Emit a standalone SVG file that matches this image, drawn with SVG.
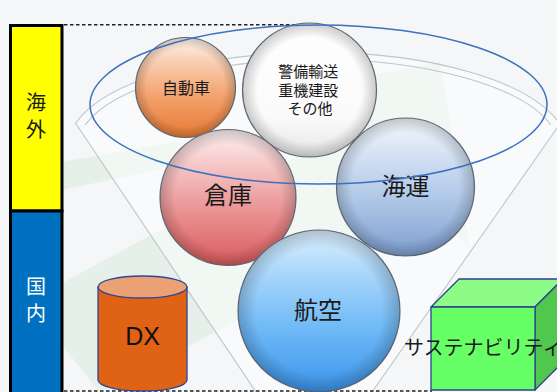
<svg xmlns="http://www.w3.org/2000/svg" width="557" height="392" viewBox="0 0 557 392">
  <style>
    .jp { font-family: "Noto Sans CJK JP", "Noto Sans", sans-serif; fill: #1a1a1a; text-anchor: middle; dominant-baseline: central; }
    .sphere { stroke: #66717d; stroke-width: 1.2; }
    .edge { fill: url(#edgeShade); stroke: none; }
    .rim { fill: none; stroke: #bfc5cb; stroke-width: 1.1; }
    .dash { fill: none; stroke: #222; stroke-width: 1.6; stroke-dasharray: 3.5 2.5; }
  </style>
  <defs>
    <linearGradient id="gOrange" x1="0" y1="0" x2="0" y2="1">
      <stop offset="0" stop-color="#fff4ec"/>
      <stop offset="0.25" stop-color="#f9cdb0"/>
      <stop offset="0.6" stop-color="#f3a06a"/>
      <stop offset="1" stop-color="#e67a34"/>
    </linearGradient>
    <linearGradient id="gWhite" x1="0" y1="0" x2="0" y2="1">
      <stop offset="0" stop-color="#ffffff"/>
      <stop offset="0.7" stop-color="#fafafa"/>
      <stop offset="1" stop-color="#e6e6e6"/>
    </linearGradient>
    <linearGradient id="gRed" x1="0" y1="0" x2="0" y2="1">
      <stop offset="0" stop-color="#fdf2f2"/>
      <stop offset="0.25" stop-color="#f6c8c8"/>
      <stop offset="0.6" stop-color="#ea9293"/>
      <stop offset="1" stop-color="#d95b5d"/>
    </linearGradient>
    <linearGradient id="gSea" x1="0" y1="0" x2="0" y2="1">
      <stop offset="0" stop-color="#f4f8fd"/>
      <stop offset="0.25" stop-color="#d6e3f4"/>
      <stop offset="0.6" stop-color="#adc6e6"/>
      <stop offset="1" stop-color="#7f9fd0"/>
    </linearGradient>
    <linearGradient id="gAir" x1="0" y1="0" x2="0" y2="1">
      <stop offset="0" stop-color="#dcf0ff"/>
      <stop offset="0.25" stop-color="#acd8fb"/>
      <stop offset="0.6" stop-color="#70baf6"/>
      <stop offset="1" stop-color="#3b95ea"/>
    </linearGradient>
    <radialGradient id="edgeShade" cx="0.5" cy="0.5" r="0.5">
      <stop offset="0.78" stop-color="#000" stop-opacity="0"/>
      <stop offset="1" stop-color="#000" stop-opacity="0.2"/>
    </radialGradient>
  </defs>

  <!-- backdrop -->
  <rect x="0" y="0" width="557" height="392" fill="#f4f6f7"/>
  <g id="watermark" fill="#dfeee4" opacity="0.7">
    <polygon points="62,283 350,128 325,85 440,62 470,250 440,215 100,392 62,345"/>
    <polygon points="62,162 175,142 250,150 62,190"/>
  </g>

  <!-- funnel -->
  <g id="funnel">
    <path d="M256,392 L75.6,123.3 A250,95 0 0 1 559.8,124.1 L372,392 Z" fill="#ffffff" fill-opacity="0.45" stroke="none"/>
    <path class="rim" d="M256,392 L75.6,123.3 A250,95 0 0 1 559.8,124.1 L372,392"/>
    <path class="rim" d="M85.2,124.8 A241,88 0 0 1 550.8,124.8"/>
  </g>

  <!-- region bars -->
  <g id="bar-overseas">
    <rect x="10.5" y="25.5" width="51.5" height="185.5" fill="#ffff00" stroke="#000" stroke-width="3"/>
    <text class="jp" x="36" y="101" font-size="20">海</text>
    <text class="jp" x="36" y="128" font-size="20">外</text>
  </g>
  <g id="bar-domestic">
    <rect x="10.5" y="211" width="51.5" height="195" fill="#0070c0" stroke="#000" stroke-width="3"/>
    <text class="jp" x="36" y="285" font-size="20" style="fill:#ffffff">国</text>
    <text class="jp" x="36" y="312" font-size="20" style="fill:#ffffff">内</text>
  </g>

  <!-- dashed guides -->
  <g id="guides">
    <line class="dash" x1="64" y1="24.8" x2="309" y2="24.8"/>
    <line class="dash" x1="64" y1="391" x2="432" y2="391"/>
  </g>

  <!-- spheres -->
  <g id="node-car">
    <circle class="sphere" cx="185.5" cy="87.5" r="50" fill="url(#gOrange)"/>
    <circle class="edge" cx="185.5" cy="87.5" r="50"/>
    <text class="jp" x="186" y="87" font-size="16">自動車</text>
  </g>
  <g id="node-other">
    <circle class="sphere" cx="309.5" cy="90" r="67" fill="url(#gWhite)"/>
    <circle class="edge" cx="309.5" cy="90" r="67"/>
    <text class="jp" font-size="15">
      <tspan x="310" y="70">警備輸送</tspan>
      <tspan x="310" y="88.5">重機建設</tspan>
      <tspan x="310" y="107">その他</tspan>
    </text>
  </g>
  <g id="node-warehouse">
    <circle class="sphere" cx="228" cy="197.5" r="68" fill="url(#gRed)"/>
    <circle class="edge" cx="228" cy="197.5" r="68"/>
    <text class="jp" x="228" y="193.5" font-size="24">倉庫</text>
  </g>
  <g id="node-sea">
    <circle class="sphere" cx="405.5" cy="187" r="69" fill="url(#gSea)"/>
    <circle class="edge" cx="405.5" cy="187" r="69"/>
    <text class="jp" x="405.5" y="184" font-size="24">海運</text>
  </g>
  <g id="node-air">
    <circle class="sphere" cx="319" cy="311" r="81" fill="url(#gAir)"/>
    <circle class="edge" cx="319" cy="311" r="81"/>
    <text class="jp" x="318" y="308" font-size="24">航空</text>
  </g>

  <!-- overseas scope ring -->
  <g id="scope">
    <ellipse cx="318.5" cy="104.5" rx="228.5" ry="79.5" fill="none" stroke="#3a72bf" stroke-width="1.5"/>
  </g>

  <!-- DX cylinder -->
  <g id="node-dx">
    <path d="M98,287 L98,380 A44.5,11 0 0 0 187,380 L187,287 Z" fill="#e06214" stroke="#2f4594" stroke-width="1.3"/>
    <ellipse cx="142.5" cy="287" rx="44.5" ry="11" fill="#eba173" stroke="#2f4594" stroke-width="1.3"/>
    <text x="142.5" y="345" font-family="Liberation Sans, Arial, sans-serif" font-size="25" fill="#111" text-anchor="middle">DX</text>
  </g>

  <!-- sustainability cube -->
  <g id="node-sustainability" stroke="#2f3f90" stroke-width="1.3" stroke-linejoin="round">
    <polygon points="431,307 459,279 563,279 535,307" fill="#8dfc86"/>
    <polygon points="535,307 563,279 563,362 535,390" fill="#50c84f"/>
    <rect x="431" y="307" width="104" height="83" fill="#66ff66"/>
    <text class="jp" x="404" y="346" font-size="20" stroke="none" style="text-anchor:start">サステナビリティ</text>
  </g>
</svg>
